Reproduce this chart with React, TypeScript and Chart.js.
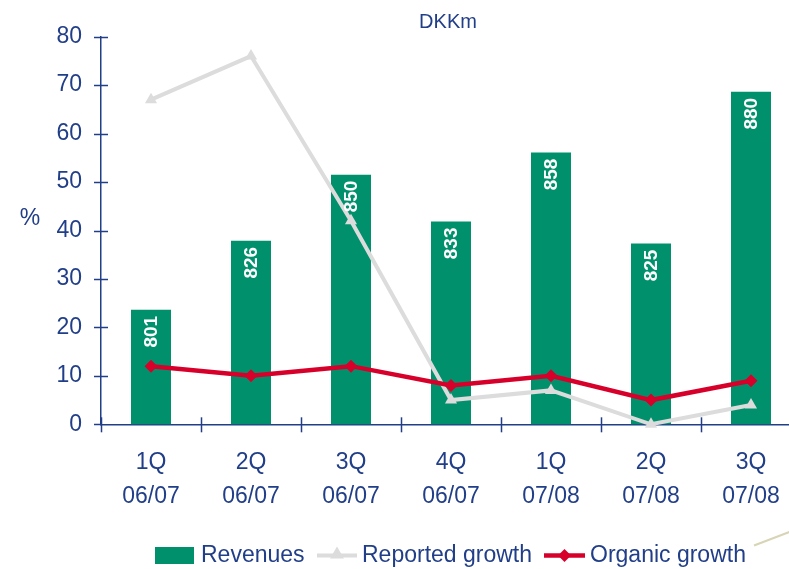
import React, { useEffect, useRef } from "react";
import { Chart, registerables } from "chart.js";

Chart.register(...registerables);

const categories: string[][] = [
  ["1Q", "06/07"],
  ["2Q", "06/07"],
  ["3Q", "06/07"],
  ["4Q", "06/07"],
  ["1Q", "07/08"],
  ["2Q", "07/08"],
  ["3Q", "07/08"],
];
const revenues = [801, 826, 850, 833, 858, 825, 880];
const reportedGrowth = [67, 76, 42, 5, 7, 0, 4];
const organicGrowth = [12, 10, 12, 8, 10, 5, 9];
const pctMin = 0;
const pctMax = 80;
const pctStep = 10;
const revMin = 759.5;
const revMax = 900;
const legendLabels = ["Revenues", "Reported growth", "Organic growth"];
const unitLabel = "DKKm";
const axisLabel = "%";

const NAVY = "#213E88";
const GREEN = "#00916C";
const GRAY = "#DCDCDC";
const RED = "#D7002B";
const FONT = "'Liberation Sans', Arial, sans-serif";

function triangle(ctx: CanvasRenderingContext2D, x: number, y: number, r: number) {
  ctx.beginPath();
  ctx.moveTo(x, y - r);
  ctx.lineTo(x + 0.866 * r, y + r / 2);
  ctx.lineTo(x - 0.866 * r, y + r / 2);
  ctx.closePath();
  ctx.fill();
}
function diamond(ctx: CanvasRenderingContext2D, x: number, y: number, r: number) {
  ctx.beginPath();
  ctx.moveTo(x - r, y);
  ctx.lineTo(x, y - r);
  ctx.lineTo(x + r, y);
  ctx.lineTo(x, y + r);
  ctx.closePath();
  ctx.fill();
}

const decorPlugin = {
  id: "decor",
  beforeDatasetsDraw(chart: any) {
    const ctx = chart.ctx as CanvasRenderingContext2D;
    const x = chart.scales.x;
    const y = chart.scales.y;
    const area = chart.chartArea;
    ctx.save();
    ctx.strokeStyle = NAVY;
    ctx.lineWidth = 1.5;
    for (let v = pctMin; v <= pctMax; v += pctStep) {
      const py = Math.round(y.getPixelForValue(v)) + 0.5;
      ctx.beginPath();
      ctx.moveTo(area.left - 7, py);
      ctx.lineTo(area.left + (v === pctMin ? 0 : 7), py);
      ctx.stroke();
    }
    const w = x.getPixelForValue(1) - x.getPixelForValue(0);
    const start = x.getPixelForValue(0) - w / 2;
    for (let i = 0; i <= categories.length; i++) {
      const px = Math.round(start + i * w) + 0.5;
      ctx.beginPath();
      ctx.moveTo(px, area.bottom - 7);
      ctx.lineTo(px, area.bottom + 8);
      ctx.stroke();
    }
    ctx.restore();
  },
  afterDraw(chart: any) {
    const ctx = chart.ctx as CanvasRenderingContext2D;
    ctx.save();
    const barMeta = chart.getDatasetMeta(2);
    ctx.fillStyle = "#FFFFFF";
    ctx.font = `bold 19px ${FONT}`;
    barMeta.data.forEach((bar: any, i: number) => {
      ctx.save();
      ctx.translate(bar.x, bar.y + 6);
      ctx.rotate(-Math.PI / 2);
      ctx.textAlign = "right";
      ctx.textBaseline = "middle";
      ctx.fillText(String(revenues[i]), 0, 1);
      ctx.restore();
    });

    ctx.fillStyle = NAVY;
    ctx.font = `20px ${FONT}`;
    ctx.textAlign = "center";
    ctx.textBaseline = "middle";
    ctx.fillText(unitLabel, 448, 22);
    ctx.font = `23px ${FONT}`;
    ctx.fillText(axisLabel, 30, 219);

    const ly = 555.5;
    ctx.fillStyle = GREEN;
    ctx.fillRect(155, 547, 39, 17);
    ctx.fillStyle = NAVY;
    ctx.font = `23px ${FONT}`;
    ctx.textAlign = "left";
    ctx.textBaseline = "middle";
    ctx.fillText(legendLabels[0], 201, ly);

    ctx.strokeStyle = GRAY;
    ctx.lineWidth = 4;
    ctx.beginPath();
    ctx.moveTo(317, ly);
    ctx.lineTo(357, ly);
    ctx.stroke();
    ctx.fillStyle = GRAY;
    triangle(ctx, 337, ly - 1, 8);
    ctx.fillStyle = NAVY;
    ctx.fillText(legendLabels[1], 362, ly);

    ctx.strokeStyle = RED;
    ctx.lineWidth = 4.5;
    ctx.beginPath();
    ctx.moveTo(544, ly);
    ctx.lineTo(585, ly);
    ctx.stroke();
    ctx.fillStyle = RED;
    diamond(ctx, 564.5, ly, 6.5);
    ctx.fillStyle = NAVY;
    ctx.fillText(legendLabels[2], 590, ly);

    ctx.strokeStyle = "#D8D4B6";
    ctx.lineWidth = 2;
    ctx.beginPath();
    ctx.moveTo(754, 545.5);
    ctx.lineTo(792, 531);
    ctx.stroke();
    ctx.restore();
  },
};

export default function App() {
  const ref = useRef<HTMLCanvasElement | null>(null);
  useEffect(() => {
    if (!ref.current) return;
    const chart = new Chart(ref.current, {
      type: "bar",
      data: {
        labels: categories,
        datasets: [
          {
            type: "line",
            label: legendLabels[2],
            data: organicGrowth,
            yAxisID: "y",
            borderColor: RED,
            backgroundColor: RED,
            borderWidth: 4.5,
            pointStyle: "rectRot",
            pointRadius: 6.5,
            pointBorderWidth: 0,
            pointBackgroundColor: RED,
            tension: 0,
            order: 0,
            clip: false,
          } as any,
          {
            type: "line",
            label: legendLabels[1],
            data: reportedGrowth,
            yAxisID: "y",
            borderColor: GRAY,
            backgroundColor: GRAY,
            borderWidth: 4,
            pointStyle: "triangle",
            pointRadius: 7,
            pointBorderWidth: 0,
            pointBackgroundColor: GRAY,
            tension: 0,
            order: 1,
            clip: false,
          } as any,
          {
            type: "bar",
            label: legendLabels[0],
            data: revenues,
            yAxisID: "y2",
            backgroundColor: GREEN,
            borderWidth: 0,
            categoryPercentage: 1,
            barPercentage: 0.4,
            order: 2,
          } as any,
        ],
      },
      options: {
        animation: false,
        responsive: false,
        devicePixelRatio: 1,
        layout: { padding: { left: 0, right: 29, top: 36.7, bottom: 0 } },
        plugins: {
          legend: { display: false },
          title: { display: false },
          tooltip: { enabled: false },
        },
        scales: {
          x: {
            offset: true,
            grid: { display: false, drawTicks: false },
            border: { display: true, color: NAVY, width: 1.5 },
            ticks: {
              color: NAVY,
              font: { family: FONT, size: 23, lineHeight: 34 / 23 },
              padding: 21.7,
              maxRotation: 0,
              autoSkip: false,
            },
            afterFit: (s: any) => {
              s.height = 144.7;
            },
          },
          y: {
            position: "left",
            min: pctMin,
            max: pctMax,
            grid: { display: false, drawTicks: false },
            border: { display: true, color: NAVY, width: 1.5 },
            ticks: {
              stepSize: pctStep,
              color: NAVY,
              font: { family: FONT, size: 23 },
              padding: 19,
            },
            afterFit: (s: any) => {
              s.width = 101;
            },
          },
          y2: {
            display: false,
            position: "right",
            min: revMin,
            max: revMax,
          },
        },
      } as any,
      plugins: [decorPlugin],
    });
    return () => chart.destroy();
  }, []);

  return (
    <div
      style={{
        position: "absolute",
        left: 0,
        top: 0,
        width: 789,
        height: 569,
        overflow: "hidden",
        background: "#FFFFFF",
      }}
    >
      <canvas ref={ref} width={830} height={569} style={{ display: "block", width: 830, height: 569 }} />
    </div>
  );
}
